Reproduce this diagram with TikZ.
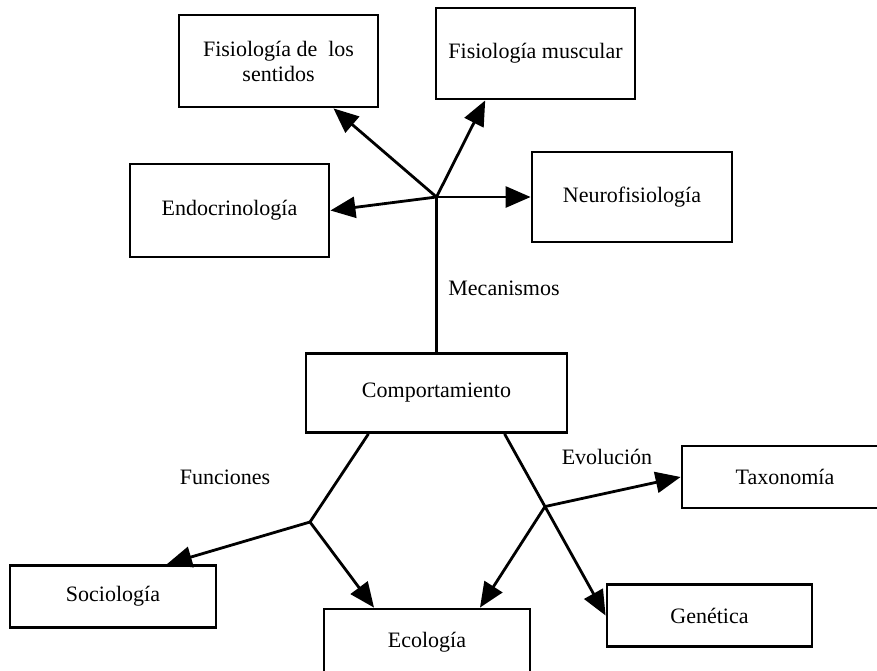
\documentclass[tikz,border=0pt]{standalone}
\usepackage{fontspec}
\setmainfont{Liberation Serif}
\usetikzlibrary{arrows.meta,calc}
\begin{document}
\begin{tikzpicture}[x=1pt, y=-1pt,
  box/.style={draw, line width=2.8pt, font=\fontsize{22}{25}\selectfont, align=center, inner sep=0pt},
  lbl/.style={font=\fontsize{22}{25}\selectfont, inner sep=0pt},
  arr/.style={line width=2.8pt, -{Triangle[length=25pt, width=21pt]}},
  ln/.style={line width=2.8pt}]
\useasboundingbox (0,0) rectangle (877,670);
\clip (0,0) rectangle (877,670);
% boxes
\node[box, minimum width=199, minimum height=92] (sent) at (278.5,61) {Fisiología de\ \ los\\sentidos};
\node[box, minimum width=199, minimum height=91] (musc) at (535.5,53.5) {Fisiología muscular};
\node[box, minimum width=199, minimum height=93] (endo) at (229.5,210.5) {Endocrinología};
\node[box, minimum width=200, minimum height=90] (neuro) at (632,197) {Neurofisiología};
\node[box, minimum width=261, minimum height=79] (comp) at (436.5,393) {Comportamiento};
\node[box, minimum width=206, minimum height=62] (taxo) at (785,477) {Taxonomía};
\node[box, minimum width=206, minimum height=62] (soc) at (113,596.5) {Sociología};
\node[box, minimum width=206, minimum height=66] (eco) at (427,642) {Ecología};
\node[box, minimum width=205, minimum height=62] (gen) at (709.5,615.5) {Genética};
% labels
\node[lbl] (meca) at (504,288) {Mecanismos};
\node[lbl] (func) at (225,477) {Funciones};
\node[lbl] (evol) at (607,457) {Evolución};
% mecanismos
\coordinate (mj) at (436.5,197);
\draw[ln] (comp.north) -- (mj);
\draw[arr] (mj) -- (sent);
\draw[arr] (mj) -- (musc.223);
\draw[arr] (mj) -- (endo.east);
\draw[arr] (mj) -- (neuro.west);
% funciones
\coordinate (fj) at (310,522);
\draw[ln] (comp.211.5) -- (fj);
\draw[arr] (fj) -- (soc.31);
\draw[arr] (fj) -- (eco.147);
% evolucion
\draw[arr] (comp.329) -- (gen.west);
\coordinate (ej) at ($(comp.329)!0.4!(gen.west)$);
\draw[arr] (ej) -- (taxo.west);
\draw[arr] (ej) -- (eco.33);
\end{tikzpicture}
\end{document}
